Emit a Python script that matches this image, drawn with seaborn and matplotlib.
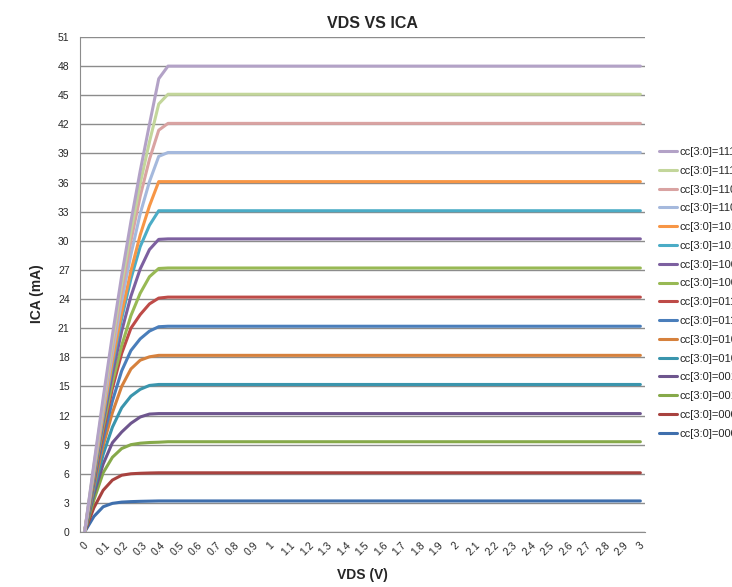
import numpy as np
import pandas as pd
import seaborn as sns
import matplotlib.pyplot as plt

# VDS sweep 0..3 V in 0.05 V steps (category axis)
vds = [round(0.05 * i, 2) for i in range(61)]

codes = ["0000", "0001", "0010", "0011", "0100", "0101", "0110", "0111",
         "1000", "1001", "1010", "1011", "1100", "1101", "1110", "1111"]

# saturation current (mA) for each code
ica_sat = [3.2, 6.1, 9.3, 12.2, 15.2, 18.2, 21.2, 24.2,
           27.2, 30.2, 33.1, 36.1, 39.1, 42.1, 45.1, 48.0]

# rising (triode) part of each curve
ica_rise = [
    [0, 1.6, 2.6, 2.95, 3.08, 3.13, 3.16, 3.18],
    [0, 2.5, 4.3, 5.35, 5.85, 6.0, 6.05, 6.08],
    [0, 3.3, 6.1, 7.7, 8.6, 9.0, 9.15, 9.22, 9.25],
    [0, 3.9, 7.0, 9.2, 10.3, 11.2, 11.85, 12.15],
    [0, 4.3, 8.0, 10.8, 12.8, 14.0, 14.7, 15.1],
    [0, 4.7, 8.9, 12.3, 15.0, 16.8, 17.7, 18.05],
    [0, 5.0, 9.6, 13.5, 16.6, 18.7, 19.9, 20.7, 21.15],
    [0, 5.3, 10.3, 14.8, 18.4, 21.0, 22.4, 23.5, 24.1],
    [0, 5.6, 10.8, 15.4, 19.2, 22.3, 24.6, 26.3, 27.15],
    [0, 5.8, 11.3, 16.3, 20.7, 24.3, 27.1, 29.1, 30.15],
    [0, 6.0, 11.8, 17.2, 22.0, 26.1, 29.4, 31.6],
    [0, 6.2, 12.1, 17.6, 22.6, 26.9, 30.6, 33.6],
    [0, 6.4, 12.6, 18.4, 23.8, 28.6, 32.8, 36.1, 38.7],
    [0, 6.6, 13.0, 19.1, 24.8, 30.0, 34.6, 38.4, 41.4],
    [0, 6.8, 13.4, 19.7, 25.6, 31.0, 35.9, 40.2, 44.1],
    [0, 7.0, 13.8, 20.3, 26.4, 32.0, 37.2, 42.0, 46.7],
]

colors = ["#3F6FAD", "#A8423F", "#86A94A", "#6E568E", "#3A95AD", "#D6813D",
          "#4A7EBB", "#BE4B48", "#98B954", "#7D60A0", "#4BACC6", "#F79646",
          "#A5B9DD", "#D9A3A2", "#C3D69B", "#B3A2C7"]

rows = []
for code, rise, sat in zip(codes, ica_rise, ica_sat):
    ica = rise + [sat] * (len(vds) - len(rise))
    for i, v in enumerate(ica):
        rows.append({"idx": i, "ICA": v, "code": "cc[3:0]=" + code})
df = pd.DataFrame(rows)

sns.set_style("white")
plt.rcParams['font.family'] = ['Liberation Sans', 'DejaVu Sans']

fig = plt.figure(figsize=(7.32, 5.87), dpi=100)
ax = fig.add_axes([80 / 732, 55 / 587, 565 / 732, 495 / 587])

labels = ["cc[3:0]=" + c for c in codes]
palette = dict(zip(labels, colors))
sns.lineplot(data=df, x="idx", y="ICA", hue="code", hue_order=labels,
             palette=palette, linewidth=2.2, ax=ax, legend=True)

ax.set_xlim(-0.5, 60.5)
ax.set_ylim(0, 51)
ax.set_yticks(np.arange(0, 52, 3))
ax.yaxis.grid(True, color="#8C8C8C", linewidth=1)
ax.set_axisbelow(True)

major = list(range(0, 61, 2))
ax.set_xticks(major)
ax.set_xticklabels([f"{vds[i]:g}" for i in major], rotation=45, fontsize=7.5)
ax.set_xticks(np.arange(-0.5, 61, 1), minor=True)
ax.tick_params(axis="x", which="major", length=0, pad=6)
ax.tick_params(axis="x", which="minor", length=4, color="#8C8C8C", direction="out")
ax.tick_params(axis="y", length=4, color="#8C8C8C", direction="out", labelsize=7.5)
for t in ax.get_xticklabels():
    t.set_ha("center")

for s in ["top", "right"]:
    ax.spines[s].set_visible(False)
for s in ["left", "bottom"]:
    ax.spines[s].set_color("#8C8C8C")

ax.set_xlabel("")
ax.set_ylabel("")
fig.text(0.495, 0.008, "VDS (V)", ha="center", va="bottom", fontsize=10, fontweight="bold")
fig.text(0.050, 0.5, "ICA (mA)", ha="center", va="center", rotation=90,
         fontsize=10, fontweight="bold")
fig.text(0.509, 0.960, "VDS VS ICA", ha="center", va="center", fontsize=11.5, fontweight="bold")

handles, labs = ax.get_legend_handles_labels()
ax.get_legend().remove()
fig.legend(handles[::-1], labs[::-1], loc="upper left",
           bbox_to_anchor=(659 / 732, 1 - 147 / 587), frameon=False,
           fontsize=8, handlelength=1.6, handletextpad=0.2, labelspacing=0.79,
           borderaxespad=0, borderpad=0)

fig.savefig("out.png", dpi=100)
